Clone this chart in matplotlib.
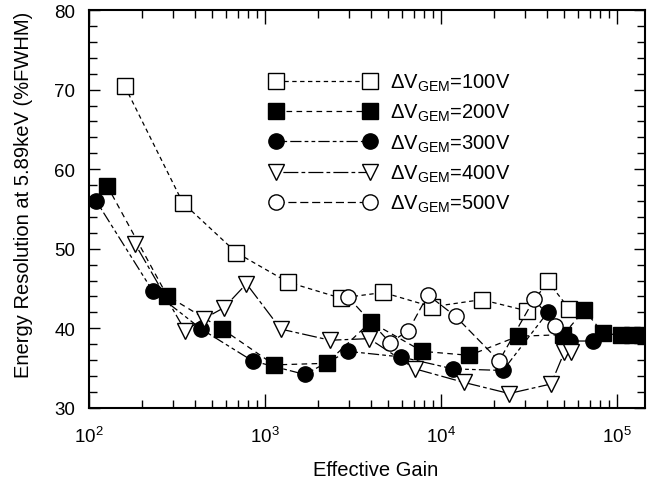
import matplotlib
matplotlib.use("Agg")
import matplotlib.pyplot as plt
from matplotlib.ticker import LogLocator, MultipleLocator, NullFormatter

plt.rcParams['font.family'] = ['Liberation Sans', 'DejaVu Sans']
plt.rcParams['mathtext.fontset'] = 'custom'
plt.rcParams['mathtext.rm'] = 'Liberation Sans'
plt.rcParams['mathtext.it'] = 'Liberation Sans:italic'
plt.rcParams['mathtext.bf'] = 'Liberation Sans:bold'

# ---- data ----
gain_100 = [160, 341, 689, 1350, 2690, 4700, 8890, 17000, 30700, 40500, 53700]
res_100 = [70.4, 55.8, 49.5, 45.8, 43.8, 44.5, 42.7, 43.6, 42.2, 45.9, 42.4]

gain_200 = [127, 278, 573, 1130, 2240, 3980, 7850, 14500, 27400, 49600, 65300, 83300, 106000, 121000, 138000]
res_200 = [57.9, 44.1, 39.9, 35.4, 35.6, 40.8, 37.1, 36.6, 39.0, 39.2, 42.3, 39.4, 39.1, 39.1, 39.1]

gain_300 = [110, 230, 435, 850, 1680, 2970, 5930, 11700, 22500, 40400, 54100, 72900]
res_300 = [56.0, 44.7, 39.9, 35.9, 34.2, 37.1, 36.4, 34.9, 34.7, 42.0, 38.4, 38.4]

gain_400 = [183, 352, 450, 586, 785, 1230, 2350, 3910, 7130, 13500, 24400, 42200, 50200, 54800]
res_400 = [50.6, 39.7, 41.2, 42.6, 45.6, 39.9, 38.5, 38.7, 34.9, 33.2, 31.8, 33.0, 37.0, 37.0]

gain_500 = [2970, 5130, 6530, 8430, 12100, 21400, 33900, 44700]
res_500 = [43.9, 38.2, 39.7, 44.2, 41.5, 35.9, 43.7, 40.3]

labels = [r'$\Delta$V$_{\mathrm{GEM}}$=100V', r'$\Delta$V$_{\mathrm{GEM}}$=200V',
          r'$\Delta$V$_{\mathrm{GEM}}$=300V', r'$\Delta$V$_{\mathrm{GEM}}$=400V',
          r'$\Delta$V$_{\mathrm{GEM}}$=500V']

fig = plt.figure(figsize=(6.54, 4.81), dpi=100)
ax = fig.add_axes([0.136, 0.150, 0.850, 0.827])

ms = 11
common = dict(color='black', lw=0.9, markersize=ms, markeredgewidth=1.0, markeredgecolor='black')
ax.plot(gain_100, res_100, marker='s', markerfacecolor='white', linestyle=(0, (3.5, 2.8)), label=labels[0], **common)
ax.plot(gain_200, res_200, marker='s', markerfacecolor='black', linestyle=(0, (4.5, 3.5)), label=labels[1], **common)
ax.plot(gain_300, res_300, marker='o', markerfacecolor='black', linestyle=(0, (3, 2.5, 3, 2.5, 9, 2.5)), label=labels[2], **common)
ax.plot(gain_400, res_400, marker='v', markerfacecolor='white', linestyle=(0, (3, 2.5, 12, 2.5)), label=labels[3], **common)
ax.plot(gain_500, res_500, marker='o', markerfacecolor='white', linestyle=(0, (6.5, 3)), label=labels[4], **common)

ax.set_xscale('log')
ax.set_xlim(100, 1.44e5)
ax.set_ylim(30, 80)
ax.xaxis.set_major_locator(LogLocator(base=10, numticks=10))
ax.xaxis.set_minor_locator(LogLocator(base=10, subs=range(2, 10), numticks=20))
ax.xaxis.set_minor_formatter(NullFormatter())
ax.yaxis.set_major_locator(MultipleLocator(10))
ax.yaxis.set_minor_locator(MultipleLocator(2))

ax.tick_params(which='both', direction='in', top=True, right=True, labelsize=13.5, width=1.0, color='black')
ax.tick_params(axis='x', which='both', pad=13)
ax.tick_params(axis='y', which='both', pad=10)
ax.tick_params(axis='x', which='major', length=10)
ax.tick_params(axis='y', which='major', length=8)
ax.tick_params(which='minor', length=5.5)
for s in ax.spines.values():
    s.set_linewidth(1.5)

ax.set_xlabel('Effective Gain', fontsize=14.5)
ax.set_ylabel('Energy Resolution at 5.89keV (%FWHM)', fontsize=14.5)
ax.xaxis.set_label_coords(0.516, -0.13)
ax.yaxis.set_label_coords(-0.10, 0.538)

leg = ax.legend(loc='upper left', bbox_to_anchor=(0.325, 0.845), frameon=False, numpoints=2,
                fontsize=14.5, handlelength=5.3, handletextpad=0.7, labelspacing=0.45, borderpad=0,
                borderaxespad=0)

fig.savefig('out.png', dpi=100)
